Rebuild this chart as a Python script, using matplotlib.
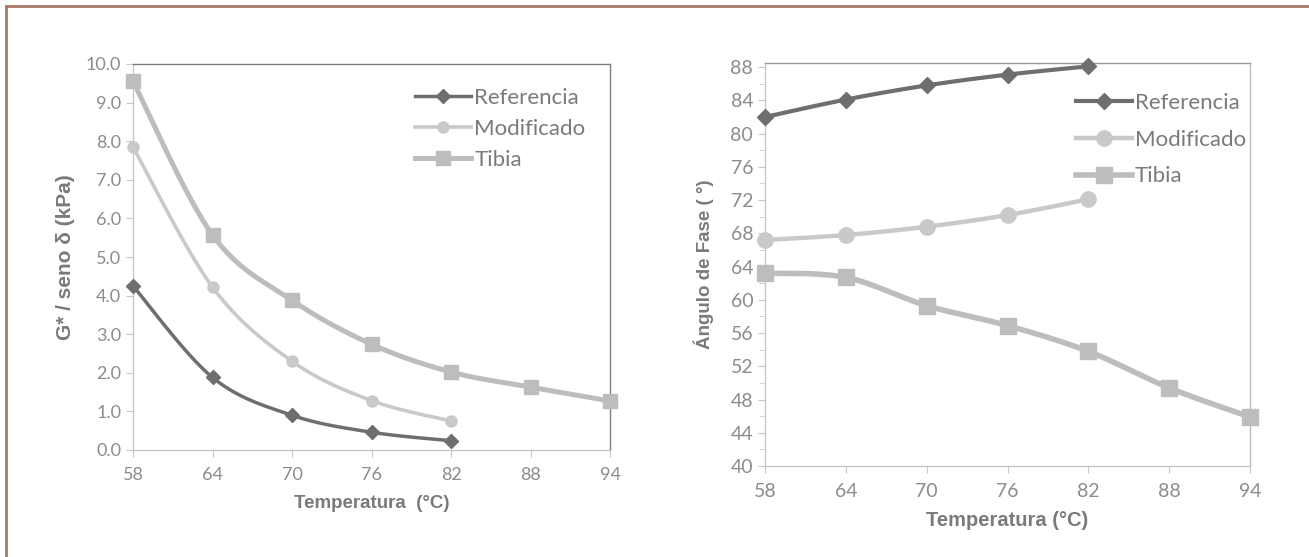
import numpy as np
import matplotlib.pyplot as plt
from matplotlib.lines import Line2D

# Temperaturas de ensayo (°C)
temp_corta = [58, 64, 70, 76, 82]
temp_larga = [58, 64, 70, 76, 82, 88, 94]

# G*/seno δ (kPa)
g_referencia = [4.25, 1.88, 0.90, 0.46, 0.24]
g_modificado = [7.85, 4.22, 2.30, 1.28, 0.75]
g_tibia = [9.55, 5.57, 3.88, 2.74, 2.02, 1.63, 1.27]

# Ángulo de fase (°)
a_referencia = [82.0, 84.1, 85.8, 87.1, 88.1]
a_modificado = [67.2, 67.8, 68.8, 70.2, 72.1]
a_tibia = [63.2, 62.7, 59.3, 56.9, 53.8, 49.4, 45.9]

series = ['Referencia', 'Modificado', 'Tibia']

W, H = 1309, 557
GRIS_TXT = '#8c8c8c'
GRIS_LBL = '#7a7a7a'
FUENTE = 'Lato'
COLORES = {'Referencia': '#6e6e6e', 'Modificado': '#c9c9c9', 'Tibia': '#bdbdbd'}
MARCAS = {'Referencia': 'D', 'Modificado': 'o', 'Tibia': 's'}


def suavizar(ax, x, y, n=30):
    # curva tipo Excel (Bezier cardinal) calculada en coordenadas de ejes
    x0, x1 = ax.get_xlim()
    y0, y1 = ax.get_ylim()
    p = np.column_stack([(np.array(x) - x0) / (x1 - x0),
                         (np.array(y) - y0) / (y1 - y0)])
    pts = []
    for i in range(len(p) - 1):
        a = p[i - 1] if i > 0 else p[i]
        b, c = p[i], p[i + 1]
        d = p[i + 2] if i + 2 < len(p) else p[i + 1]
        c1 = b + (c - a) / 6
        c2 = c - (d - b) / 6
        t = np.linspace(0, 1, n)[:, None]
        seg = (1 - t) ** 3 * b + 3 * (1 - t) ** 2 * t * c1 + 3 * (1 - t) * t ** 2 * c2 + t ** 3 * c
        pts.append(seg if i == 0 else seg[1:])
    pts = np.vstack(pts)
    return pts[:, 0] * (x1 - x0) + x0, pts[:, 1] * (y1 - y0) + y0


def preparar(ax, borde_sup, borde_der, tam_txt):
    ax.spines['left'].set_color('#c8c8c8')
    ax.spines['bottom'].set_color('#c8c8c8')
    ax.spines['top'].set_color(borde_sup)
    ax.spines['right'].set_color(borde_der)
    for s in ax.spines.values():
        s.set_linewidth(1)
    ax.tick_params(which='both', direction='out', color='#c8c8c8', labelcolor=GRIS_TXT,
                   labelsize=tam_txt, length=5)
    ax.tick_params(which='minor', length=4)
    ax.set_xlim(58, 94)
    ax.set_xticks(temp_larga)


def dibujar(ax, xs, ys, grosor, tam):
    for nombre, x, y in zip(series, xs, ys):
        sx, sy = suavizar(ax, x, y)
        ax.plot(sx, sy, color=COLORES[nombre], lw=grosor[nombre], solid_capstyle='round', zorder=2)
        ax.plot(x, y, ls='none', marker=MARCAS[nombre], ms=tam[nombre], color=COLORES[nombre],
                mec=COLORES[nombre], zorder=3, clip_on=False)
    for t in ax.get_xticklabels() + ax.get_yticklabels():
        t.set_fontfamily(FUENTE)
    return [Line2D([], [], color=COLORES[n], lw=grosor[n], marker=MARCAS[n], ms=tam[n])
            for n in series]


def leyenda(ax, h, ancla, esp):
    leg = ax.legend(h, series, loc='upper left', bbox_to_anchor=ancla, frameon=False,
                    handlelength=2.5, handletextpad=0.15, labelspacing=esp,
                    prop={'family': FUENTE, 'size': 16})
    for t in leg.get_texts():
        t.set_color(GRIS_LBL)


fig = plt.figure(figsize=(W / 100, H / 100), dpi=100)
fig.patch.set_facecolor('white')

# marco exterior
fig.add_artist(Line2D([6 / W, 1], [1 - 6 / H, 1 - 6 / H], color='#a87868', lw=2))
fig.add_artist(Line2D([6 / W, 6 / W], [1 - 6 / H, 0], color='#a87868', lw=2))

# --- G*/seno δ ---
ax1 = fig.add_axes([133 / W, 1 - 450 / H, 477 / W, 386 / H])
preparar(ax1, '#7c7c7c', '#7c7c7c', 13)
ax1.set_ylim(0, 10)
ax1.set_yticks(np.arange(0, 10.1, 1.0))
ax1.set_yticklabels([f'{v:.1f}' for v in np.arange(0, 10.1, 1.0)])
h1 = dibujar(ax1, [temp_corta, temp_corta, temp_larga], [g_referencia, g_modificado, g_tibia],
             {'Referencia': 2.5, 'Modificado': 2.6, 'Tibia': 3.6},
             {'Referencia': 7, 'Modificado': 8, 'Tibia': 10})
ax1.tick_params(axis='x', pad=7)
ax1.set_xlabel('Temperatura  (°C)', fontsize=13.5, fontweight='bold', color=GRIS_LBL,
               family='Liberation Sans', labelpad=9)
ax1.set_ylabel('G* / seno δ (kPa)', fontsize=15, fontweight='bold', color=GRIS_LBL,
               family='Liberation Sans', labelpad=8)
leyenda(ax1, h1, (0.55, 0.99), 0.5)

# --- Ángulo de fase ---
ax2 = fig.add_axes([765 / W, 1 - 466 / H, 485 / W, 403 / H])
preparar(ax2, '#9a9a9a', '#bdbdbd', 14)
ax2.set_ylim(40, 88.5)
ax2.set_yticks(np.arange(40, 89, 4))
ax2.set_yticks(np.arange(42, 89, 4), minor=True)
h2 = dibujar(ax2, [temp_corta, temp_corta, temp_larga], [a_referencia, a_modificado, a_tibia],
             {'Referencia': 3.0, 'Modificado': 3.2, 'Tibia': 4.0},
             {'Referencia': 8, 'Modificado': 11, 'Tibia': 11})
ax2.tick_params(axis='x', pad=7)
ax2.set_xlabel('Temperatura (°C)', fontsize=14.5, fontweight='bold', color=GRIS_LBL,
               family='Liberation Sans', labelpad=8)
ax2.set_ylabel('Ángulo de Fase ( °)', fontsize=13.5, fontweight='bold', color=GRIS_LBL,
               family='Liberation Sans', labelpad=12)
leyenda(ax2, h2, (0.6, 0.975), 0.75)

fig.savefig('out.png', dpi=100)
